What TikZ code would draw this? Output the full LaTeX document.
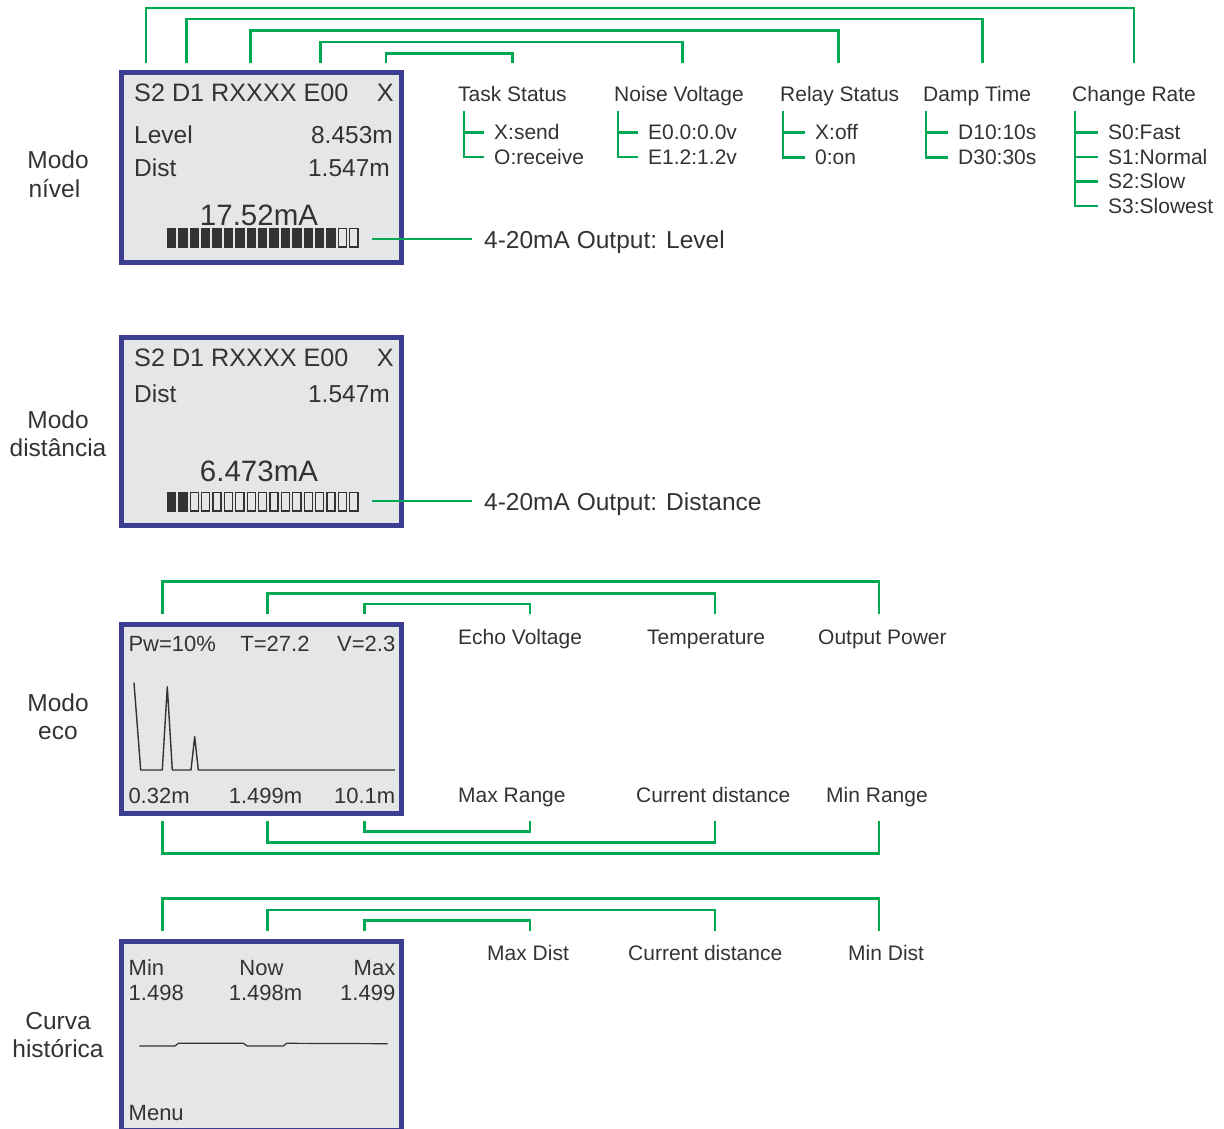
\documentclass[tikz,border=0pt]{standalone}
\usepackage{fontspec}
\setmainfont{Liberation Sans}
\definecolor{lcdblue}{RGB}{59,62,145}
\definecolor{lcdgray}{RGB}{229,230,232}
\definecolor{lgreen}{RGB}{0,168,84}
\definecolor{ink}{RGB}{51,51,51}

\begin{document}
\begin{tikzpicture}[x=1pt,y=-1pt,
  lcd/.style={draw=lcdblue,line width=5pt,fill=lcdgray},
  conn/.style={draw=lgreen,line width=2.6pt},
  big/.style={font=\fontsize{24.5}{28}\selectfont,text=ink,inner sep=0pt},
  head/.style={font=\fontsize{25.2}{28}\selectfont,text=ink,inner sep=0pt},
  med/.style={font=\fontsize{22}{26}\selectfont,text=ink,inner sep=0pt},
  small/.style={font=\fontsize{21}{24}\selectfont,text=ink,inner sep=0pt},
  amp/.style={font=\fontsize{29.5}{32}\selectfont,text=ink,inner sep=0pt},
  hollow/.style={draw=ink,line width=1.3pt,fill=none},
  trace/.style={draw=ink,line width=1.4pt,line join=round}
]
\useasboundingbox (0,0) rectangle (1224,1129);

% ---------------- mode labels ----------------
\node[big,anchor=base] (m1a) at (58,169) {Modo};
\node[big,anchor=base west] (m1b) at (28.3,197) {nível};
\node[big,anchor=base] (m2a) at (58,428) {Modo};
\node[big,anchor=base] (m2b) at (58,456) {distância};
\node[big,anchor=base] (m3a) at (58,711) {Modo};
\node[big,anchor=base] (m3b) at (58,739) {eco};
\node[big,anchor=base] (m4a) at (58,1029) {Curva};
\node[big,anchor=base] (m4b) at (58,1057) {histórica};

% ---------------- level display ----------------
\draw[lcd] (121,73) rectangle (401,262);
\node[head,anchor=base west] (l1h) at (134,101.7) {S2 D1 RXXXX E00};
\node[head,anchor=base east] (l1x) at (394,101.7) {X};
\node[big,anchor=base west] (l1lv) at (134,143.3) {Level};
\node[big,anchor=base east] (l1lvv) at (393,143.3) {8.453m};
\node[big,anchor=base west] (l1d) at (134,176) {Dist};
\node[big,anchor=base east] (l1dv) at (390,176) {1.547m};
\node[amp,anchor=base] (l1ma) at (259,225) {17.52mA};
\foreach \i in {0,...,16}{
  \ifnum\i<15
    \fill[ink] (166.7+\i*11.4,227.5) rectangle ++(9.4,20);
  \else
    \draw[hollow] (167.35+\i*11.4,228.15) rectangle ++(8.1,18.7);
  \fi
}
\coordinate (bar1) at (372,239);
\node[big,anchor=base west] (out1) at (484,248) {4-20mA Output: Level};
\draw[conn] (bar1) -- ([xshift=-12pt]bar1 -| out1.west);

% menu field labels
\node[small,anchor=base west] (ts) at (458,101.7) {Task Status};
\node[small,anchor=base west] (nv) at (614,101.7) {Noise Voltage};
\node[small,anchor=base west] (rs) at (780,101.7) {Relay Status};
\node[small,anchor=base west] (dt) at (923,101.7) {Damp Time};
\node[small,anchor=base west] (cr) at (1072,101.7) {Change Rate};

\node[small,anchor=base west] (ts1) at (494,140) {X:send};
\node[small,anchor=base west] (ts2) at (494,164.5) {O:receive};
\node[small,anchor=base west] (nv1) at (648,140) {E0.0:0.0v};
\node[small,anchor=base west] (nv2) at (648,164.5) {E1.2:1.2v};
\node[small,anchor=base west] (rs1) at (815,140) {X:off};
\node[small,anchor=base west] (rs2) at (815,164.5) {0:on};
\node[small,anchor=base west] (dt1) at (958,140) {D10:10s};
\node[small,anchor=base west] (dt2) at (958,164.5) {D30:30s};
\node[small,anchor=base west] (cr1) at (1108,140) {S0:Fast};
\node[small,anchor=base west] (cr2) at (1108,164.5) {S1:Normal};
\node[small,anchor=base west] (cr3) at (1108,189) {S2:Slow};
\node[small,anchor=base west] (cr4) at (1108,213.5) {S3:Slowest};

% option trees
\coordinate (tsv) at (464,111);
\coordinate (nvv) at (618,111);
\coordinate (rsv) at (783,111);
\coordinate (dtv) at (926,111);
\coordinate (crv) at (1075,111);
\draw[conn] (tsv) |- ([xshift=-10pt]ts2.west);
\draw[conn] (tsv |- ts1.west) -- ([xshift=-10pt]ts1.west);
\draw[conn] (nvv) |- ([xshift=-10pt]nv2.west);
\draw[conn] (nvv |- nv1.west) -- ([xshift=-10pt]nv1.west);
\draw[conn] (rsv) |- ([xshift=-10pt]rs2.west);
\draw[conn] (rsv |- rs1.west) -- ([xshift=-10pt]rs1.west);
\draw[conn] (dtv) |- ([xshift=-10pt]dt2.west);
\draw[conn] (dtv |- dt1.west) -- ([xshift=-10pt]dt1.west);
\draw[conn] (crv) |- ([xshift=-10pt]cr4.west);
\foreach \k in {cr1,cr2,cr3}
  \draw[conn] (crv |- \k.west) -- ([xshift=-10pt]\k.west);

% header fields to their labels
\coordinate (h1) at (146,63);   \coordinate (e1) at (1134,63);
\coordinate (h2) at (186.5,63); \coordinate (e2) at (982.5,63);
\coordinate (h3) at (250.5,63); \coordinate (e3) at (838.5,63);
\coordinate (h4) at (320.5,63); \coordinate (e4) at (682.5,63);
\coordinate (h5) at (386,63);   \coordinate (e5) at (512.5,63);
\draw[conn] (h1) -- ++(0,-55) -| (e1);
\draw[conn] (h2) -- ++(0,-44) -| (e2);
\draw[conn] (h3) -- ++(0,-32.7) -| (e3);
\draw[conn] (h4) -- ++(0,-21) -| (e4);
\draw[conn] (h5) -- ++(0,-9.7) -| (e5);

% ---------------- distance display ----------------
\draw[lcd] (121,337) rectangle (401,525.5);
\node[head,anchor=base west] (l2h) at (134,366) {S2 D1 RXXXX E00};
\node[head,anchor=base east] (l2x) at (394,366) {X};
\node[big,anchor=base west] (l2d) at (134,402.7) {Dist};
\node[big,anchor=base east] (l2dv) at (390,402.7) {1.547m};
\node[amp,anchor=base] (l2ma) at (259,481.7) {6.473mA};
\foreach \i in {0,...,16}{
  \ifnum\i<2
    \fill[ink] (166.7+\i*11.4,491.7) rectangle ++(9.4,20);
  \else
    \draw[hollow] (167.35+\i*11.4,492.35) rectangle ++(8.1,18.7);
  \fi
}
\coordinate (bar2) at (372,501);
\node[big,anchor=base west] (out2) at (484,510) {4-20mA Output: Distance};
\draw[conn] (bar2) -- ([xshift=-12pt]bar2 -| out2.west);

% ---------------- echo display ----------------
\draw[lcd] (121,624) rectangle (401,813.3);
\node[med,anchor=base west] (e3pw) at (128.3,651.7) {Pw=10\%};
\node[med,anchor=base] (e3t) at (275,651.7) {T=27.2};
\node[med,anchor=base east] (e3v) at (395.5,651.7) {V=2.3};
\node[med,anchor=base west] (e3a) at (128.3,803.3) {0.32m};
\node[med,anchor=base] (e3b) at (265.5,803.3) {1.499m};
\node[med,anchor=base east] (e3c) at (395.5,803.3) {10.1m};
\draw[trace] (134,682.7) -- (140.7,770) -- (162.3,770) -- (167.3,686.7)
  -- (172.3,770) -- (191,770) -- (194.7,736.7) -- (198.3,770) -- (395,770);

\node[small,anchor=base west] (ev) at (458,644) {Echo Voltage};
\node[small,anchor=base west] (tp) at (647,644) {Temperature};
\node[small,anchor=base west] (op) at (818,644) {Output Power};
\node[small,anchor=base west] (mr) at (458,802) {Max Range};
\node[small,anchor=base west] (cd) at (636,802) {Current distance};
\node[small,anchor=base west] (nr) at (826,802) {Min Range};

\coordinate (p1) at (162.3,613.5); \coordinate (q1) at (879,613.5);
\coordinate (p2) at (267.3,613.5); \coordinate (q2) at (715,613.5);
\coordinate (p3) at (364.5,613.5); \coordinate (q3) at (530,613.5);
\draw[conn] (p1) -- ++(0,-32) -| (q1);
\draw[conn] (p2) -- ++(0,-20.3) -| (q2);
\draw[conn] (p3) -- ++(0,-9.5) -| (q3);
\coordinate (r1) at (162.3,821); \coordinate (s1) at (879,821);
\coordinate (r2) at (267.3,821); \coordinate (s2) at (715,821);
\coordinate (r3) at (364.5,821); \coordinate (s3) at (530,821);
\draw[conn] (r1) -- ++(0,32.5) -| (s1);
\draw[conn] (r2) -- ++(0,21.3) -| (s2);
\draw[conn] (r3) -- ++(0,10.7) -| (s3);

% ---------------- history display ----------------
\draw[lcd] (121,941) rectangle (401,1130);
\node[med,anchor=base west] (h4a) at (128.5,975) {Min};
\node[med,anchor=base] (h4b) at (261.5,975) {Now};
\node[med,anchor=base east] (h4c) at (395.5,975) {Max};
\node[med,anchor=base west] (h4d) at (128.5,1000) {1.498};
\node[med,anchor=base] (h4e) at (265.5,1000) {1.498m};
\node[med,anchor=base east] (h4f) at (395.5,1000) {1.499};
\node[med,anchor=base west] (h4g) at (128.5,1120) {Menu};
\draw[trace,line width=1.2pt] (139.3,1046) -- (175,1046) -- (178.3,1043.3) -- (243.3,1043.3)
  -- (247.3,1046) -- (283.3,1046) -- (286.7,1043.3) -- (387.7,1043.7);

\node[small,anchor=base west] (xd) at (487,960) {Max Dist};
\node[small,anchor=base west] (cd2) at (628,960) {Current distance};
\node[small,anchor=base west] (nd) at (848,960) {Min Dist};

\coordinate (u1) at (162.3,930.5); \coordinate (v1) at (879,930.5);
\coordinate (u2) at (267.3,930.5); \coordinate (v2) at (715,930.5);
\coordinate (u3) at (364.5,930.5); \coordinate (v3) at (530,930.5);
\draw[conn] (u1) -- ++(0,-32.2) -| (v1);
\draw[conn] (u2) -- ++(0,-20.5) -| (v2);
\draw[conn] (u3) -- ++(0,-9.8) -| (v3);
\end{tikzpicture}
\end{document}
